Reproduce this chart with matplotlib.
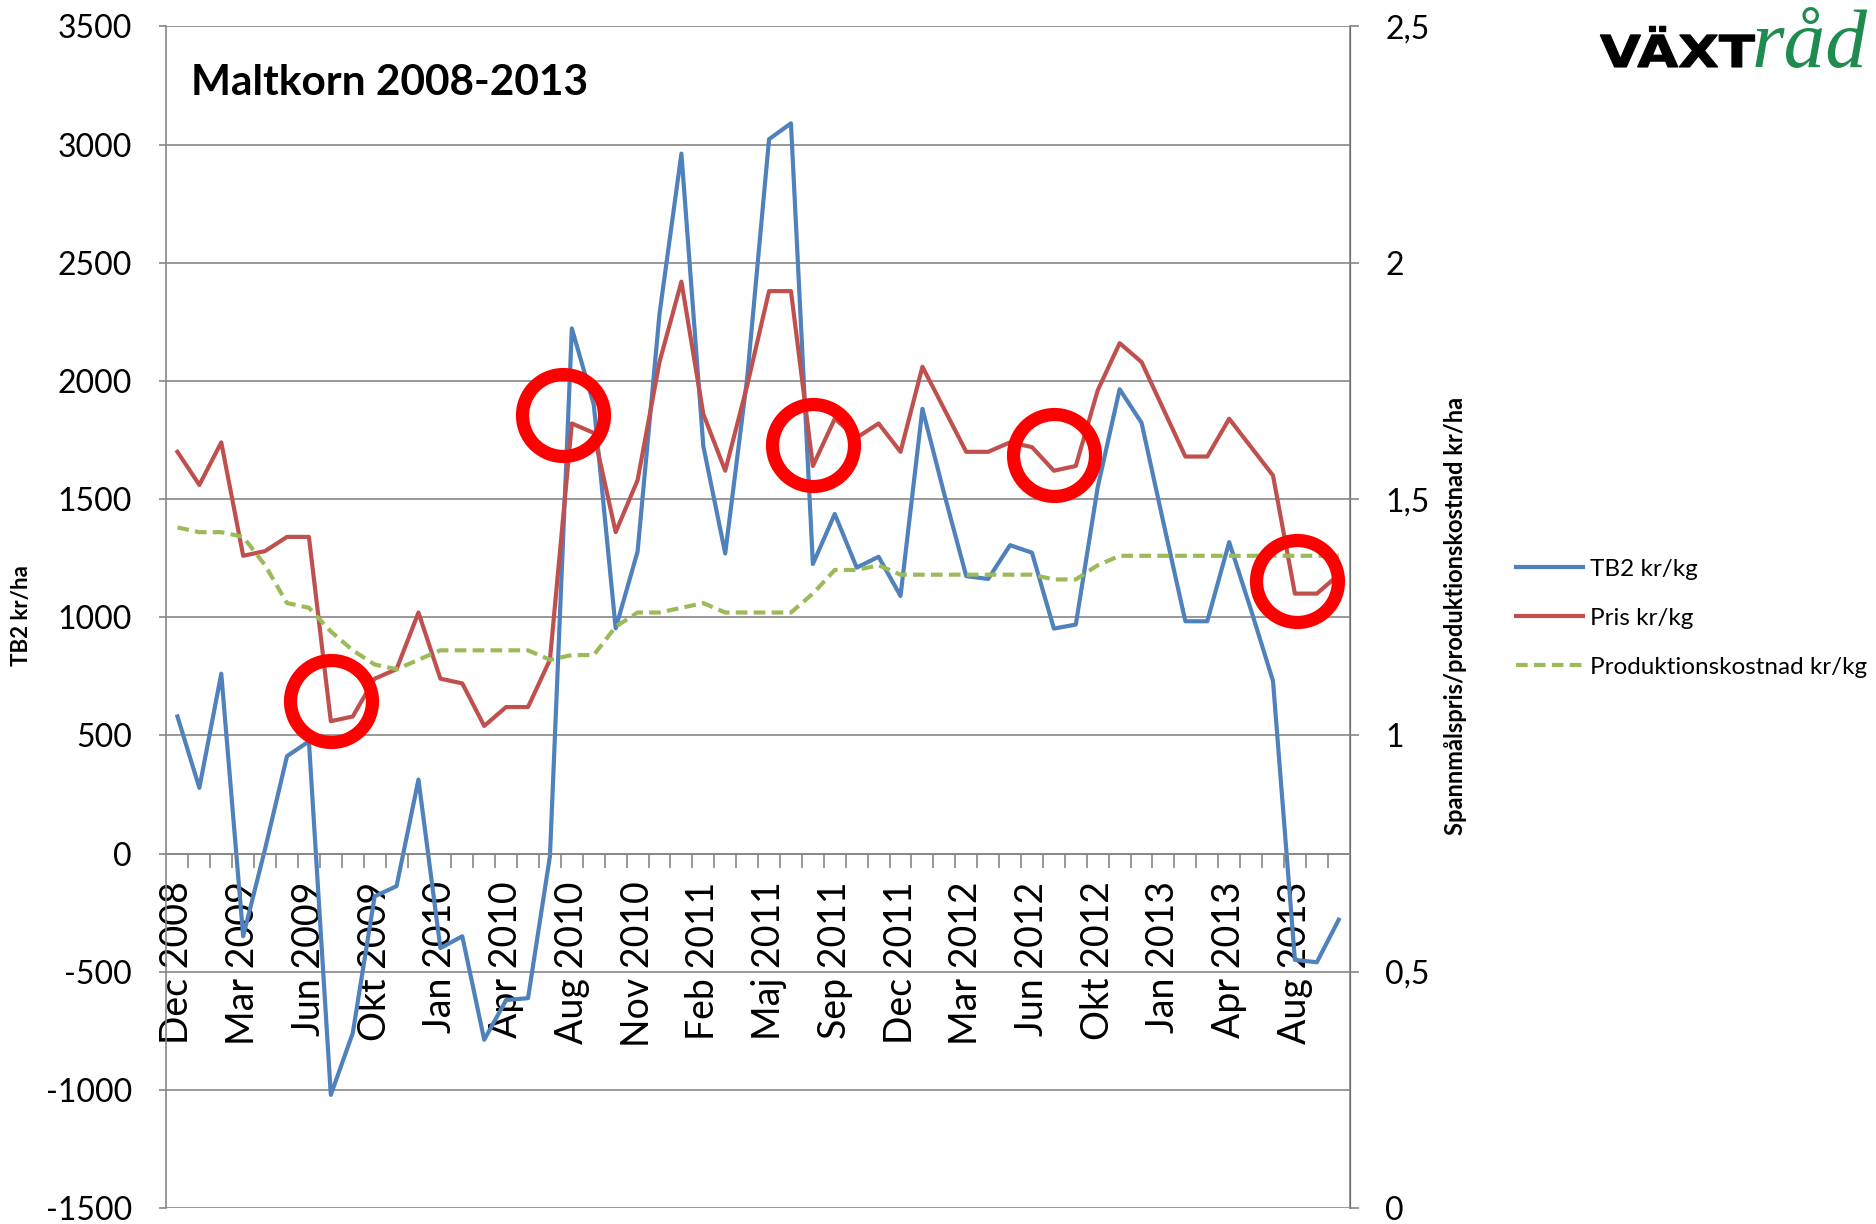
import numpy as np
import matplotlib
matplotlib.use("Agg")
import matplotlib.pyplot as plt
from matplotlib.textpath import TextPath
from matplotlib.patches import PathPatch
from matplotlib.font_manager import FontProperties
from matplotlib.transforms import Affine2D, IdentityTransform

plt.rcParams['font.family'] = ['Lato', 'DejaVu Sans']

# x-axis: one category per observation, label shown on every third one
tick_labels = ['Dec 2008', 'Mar 2009', 'Jun 2009', 'Okt 2009', 'Jan 2010', 'Apr 2010',
               'Aug 2010', 'Nov 2010', 'Feb 2011', 'Maj 2011', 'Sep 2011', 'Dec 2011',
               'Mar 2012', 'Jun 2012', 'Okt 2012', 'Jan 2013', 'Apr 2013', 'Aug 2013']

# TB2 (left axis, kr/ha)
tb2 = [580, 278, 761, -350, 20, 412, 475, -1021, -760, -181,
       -138, 313, -400, -350, -788, -620, -612, -11, 2222, 1900,
       953, 1278, 2283, 2962, 1724, 1270, 2011, 3023, 3090, 1225,
       1437, 1210, 1256, 1090, 1882, 1520, 1174, 1162, 1305, 1273,
       952, 969, 1550, 1965, 1823, 1400, 983, 983, 1318, 1030,
       730, -450, -460, -280]

# Pris kr/kg (right axis)
pris = [1.60, 1.53, 1.62, 1.38, 1.39, 1.42, 1.42, 1.03, 1.04, 1.12,
        1.14, 1.26, 1.12, 1.11, 1.02, 1.06, 1.06, 1.16, 1.66, 1.64,
        1.43, 1.54, 1.79, 1.96, 1.68, 1.56, 1.74, 1.94, 1.94, 1.57,
        1.67, 1.63, 1.66, 1.60, 1.78, 1.69, 1.60, 1.60, 1.62, 1.61,
        1.56, 1.57, 1.73, 1.83, 1.79, 1.69, 1.59, 1.59, 1.67, 1.61,
        1.55, 1.30, 1.30, 1.34]

# Produktionskostnad kr/kg (right axis)
prodkost = [1.44, 1.43, 1.43, 1.42, 1.36, 1.28, 1.27, 1.22, 1.18, 1.15,
            1.14, 1.16, 1.18, 1.18, 1.18, 1.18, 1.18, 1.16, 1.17, 1.17,
            1.23, 1.26, 1.26, 1.27, 1.28, 1.26, 1.26, 1.26, 1.26, 1.30,
            1.35, 1.35, 1.36, 1.34, 1.34, 1.34, 1.34, 1.34, 1.34, 1.34,
            1.33, 1.33, 1.36, 1.38, 1.38, 1.38, 1.38, 1.38, 1.38, 1.38,
            1.38, 1.38, 1.38, 1.38]

# red highlight rings (category index, right-axis value)
circle_idx = [7.0, 17.6, 29.0, 40.0, 51.1]
circle_val = [1.073, 1.677, 1.614, 1.593, 1.327]

left_ticks = [-1500, -1000, -500, 0, 500, 1000, 1500, 2000, 2500, 3000, 3500]
right_ticks = [0, 0.5, 1, 1.5, 2, 2.5]
right_tick_labels = ['0', '0,5', '1', '1,5', '2', '2,5']

grid_col = '#868686'
blue = '#4F81BD'
red = '#C0504D'
green = '#9BBB59'

fig = plt.figure(figsize=(18.76, 12.24), dpi=100)
ax = fig.add_axes([0.08875, 0.01307, 0.6307, 0.9653])
ax2 = ax.twinx()

x = np.arange(len(tb2))
l1, = ax.plot(x, tb2, color=blue, lw=3, label='TB2 kr/kg')
l2, = ax2.plot(x, pris, color=red, lw=3, label='Pris kr/kg')
l3, = ax2.plot(x, prodkost, color=green, lw=3, ls=(0, (2.8, 1.5)),
               label='Produktionskostnad kr/kg')

ax2.plot(circle_idx, circle_val, ls='none', marker='o', ms=59, mfc='none',
         mec='#FF0000', mew=9.5, zorder=10, clip_on=False)

ax.set_xlim(-0.5, len(tb2) - 0.5)
ax.set_ylim(-1500, 3500)
ax2.set_ylim(0, 2.5)

# value axes
ax.set_yticks(left_ticks)
ax.set_yticklabels([str(v) for v in left_ticks])
ax2.set_yticks(right_ticks)
ax2.set_yticklabels(right_tick_labels)
ax.tick_params(axis='y', length=5, width=1.2, color=grid_col, labelsize=23, pad=20)
ax2.tick_params(axis='y', length=6.5, width=1.2, color=grid_col, labelsize=23, pad=19)
ax.yaxis.grid(True, color=grid_col, lw=1.2)
ax.set_axisbelow(True)

# category axis crosses at 0, ticks between categories
ax.spines['bottom'].set_position(('data', 0))
ax.set_xticks(x[::3])
ax.set_xticklabels(tick_labels, rotation=90)
ax.set_xticks(np.arange(0.5, len(tb2) - 1, 1), minor=True)
ax.tick_params(axis='x', which='major', length=0, labelsize=27, pad=20)
ax.tick_params(axis='x', which='minor', length=10, width=1.2, color=grid_col, direction='out')

ax.spines['top'].set_visible(False)
for s in ['top', 'bottom', 'left']:
    ax2.spines[s].set_visible(False)
for sp in [ax.spines['left'], ax.spines['bottom'], ax2.spines['right']]:
    sp.set_color(grid_col)
    sp.set_linewidth(1.2)

# axis titles
fig.text(0.0112, 0.4967, 'TB2 kr/ha', rotation=90, ha='center', va='center',
         fontsize=16, fontweight='bold')
fig.text(0.7756, 0.4967, 'Spannmålspris/produktionskostnad kr/ha', rotation=90,
         ha='center', va='center', fontsize=17, fontweight='bold')

fig.text(0.1018, 1 - 95 / 1224, 'Maltkorn 2008-2013', fontsize=30.5,
         fontweight='bold', va='baseline')

fig.legend(handles=[l1, l2, l3], loc='center left', bbox_to_anchor=(0.808, 0.495),
           frameon=False, fontsize=17.5, handlelength=2.75, handletextpad=0.3,
           labelspacing=1.15, borderpad=0, borderaxespad=0)

# logo: wide heavy "VÄXT" (stretched text path, pixel units) + green italic "råd"
vaxt = TextPath((0, 0), 'VÄXT', size=44, prop=FontProperties(family='DejaVu Sans', weight='bold'))
vaxt_tr = Affine2D().scale(1.2, 1.0).translate(1600, 1224 - 67) + IdentityTransform()
fig.add_artist(PathPatch(vaxt, transform=vaxt_tr, facecolor='black', edgecolor='black', lw=0.8))
fig.text(1752 / 1876, 1 - 67 / 1224, 'råd', fontsize=60, style='italic',
         family='Liberation Serif', color='#1E8C4E', va='baseline')

fig.savefig('out.png', dpi=100)
